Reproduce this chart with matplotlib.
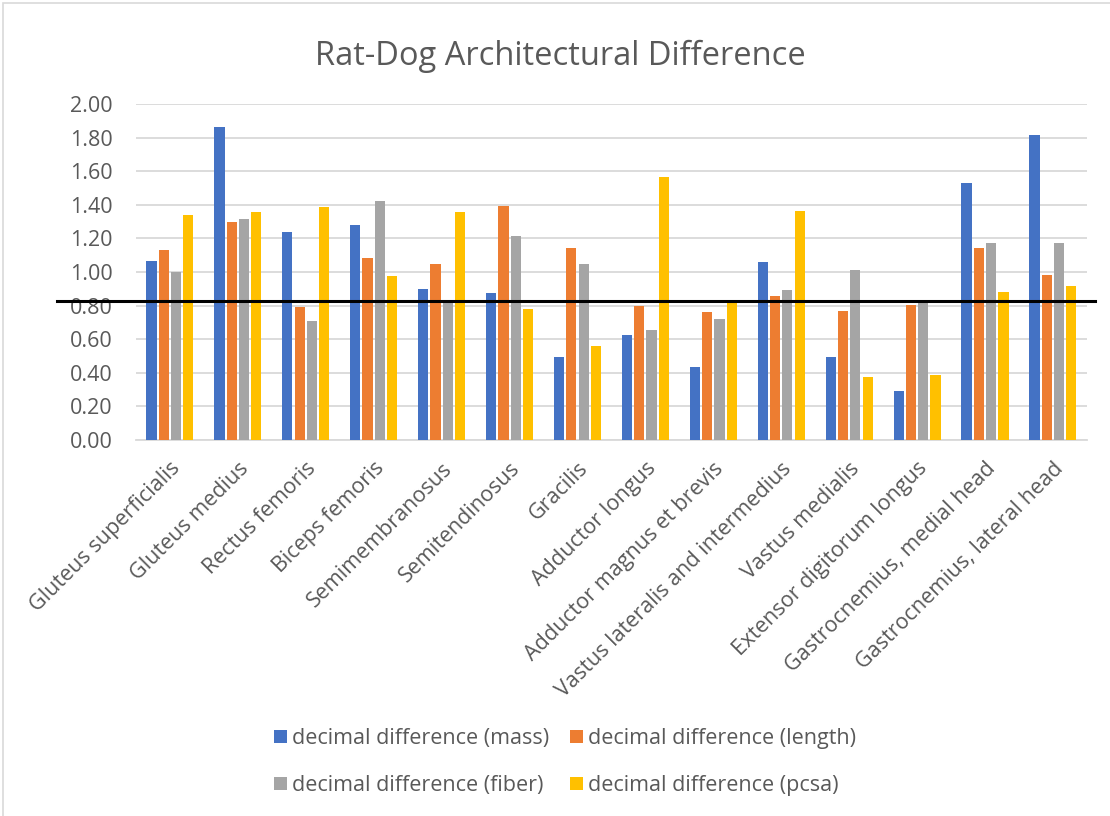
import numpy as np
import matplotlib.pyplot as plt
from matplotlib.patches import Rectangle

plt.rcParams['font.family'] = ['Open Sans', 'DejaVu Sans']

muscles = ['Gluteus superficialis', 'Gluteus medius', 'Rectus femoris',
           'Biceps femoris', 'Semimembranosus', 'Semitendinosus', 'Gracilis',
           'Adductor longus', 'Adductor magnus et brevis',
           'Vastus lateralis and intermedius', 'Vastus medialis',
           'Extensor digitorum longus', 'Gastrocnemius, medial head',
           'Gastrocnemius, lateral head']

mass = [1.063, 1.865, 1.236, 1.280, 0.899, 0.877, 0.492, 0.623, 0.433,
        1.062, 0.496, 0.290, 1.528, 1.815]
length = [1.129, 1.296, 0.790, 1.085, 1.048, 1.393, 1.145, 0.796, 0.762,
          0.857, 0.768, 0.806, 1.145, 0.982]
fiber = [1.002, 1.315, 0.708, 1.425, 0.819, 1.216, 1.048, 0.655, 0.720,
         0.893, 1.012, 0.827, 1.171, 1.173]
pcsa = [1.341, 1.355, 1.385, 0.978, 1.359, 0.780, 0.560, 1.563, 0.819,
        1.365, 0.375, 0.389, 0.879, 0.917]
ref_line = 0.825

series = [('decimal difference (mass)', mass, '#4472C4'),
          ('decimal difference (length)', length, '#ED7D31'),
          ('decimal difference (fiber)', fiber, '#A5A5A5'),
          ('decimal difference (pcsa)', pcsa, '#FFC000')]

txt = '#595959'
fig = plt.figure(figsize=(11.1, 8.16), dpi=100)
ax = fig.add_axes([0.1225, 0.4608, 0.8567, 0.4117])

x = np.arange(len(muscles))
slot = 0.181
handles = []
for i, (name, vals, col) in enumerate(series):
    b = ax.bar(x + (i - 1.5) * slot, vals, width=0.15, color=col, label=name, zorder=3)
    handles.append(b)

ax.set_xlim(-0.5, len(muscles) - 0.5)
ax.set_ylim(0, 2.0)
ax.set_yticks(np.arange(0, 2.01, 0.2))
ax.set_yticklabels(['%.2f' % v for v in np.arange(0, 2.01, 0.2)])
ax.yaxis.grid(True, color='#D9D9D9', linewidth=1.3, zorder=0)
ax.set_axisbelow(True)
for s in ['top', 'right', 'left']:
    ax.spines[s].set_visible(False)
ax.spines['bottom'].set_color('#D9D9D9')
ax.spines['bottom'].set_linewidth(1.3)
ax.tick_params(axis='both', length=0, labelsize=15.5, colors=txt)
ax.tick_params(axis='y', pad=17)
ax.set_xticks(x)
ax.set_xticklabels(muscles, rotation=45, ha='right', rotation_mode='anchor')
ax.tick_params(axis='x', pad=13)

# horizontal reference line drawn across the chart
ax.axhline(ref_line, xmin=-0.083, xmax=1.009, color='black', linewidth=2.2,
           clip_on=False, zorder=5)

fig.suptitle('Rat-Dog Architectural Difference', x=0.505, y=0.951,
             fontsize=23.5, color=txt)

order = [0, 2, 1, 3]
leg = fig.legend([handles[k] for k in order], [series[k][0] for k in order],
                 ncol=2, loc='center', frameon=False, fontsize=15.5,
                 labelcolor=txt, handlelength=0.6, handleheight=0.6,
                 handletextpad=0.2, columnspacing=1.0, labelspacing=1.2)
leg.set_bbox_to_anchor((0.509, 0.066), transform=fig.transFigure)

fig.patches.append(Rectangle((3 / 1110, -0.1), 1.2, 0.1 + 813 / 816,
                             transform=fig.transFigure, fill=False,
                             edgecolor='#D9D9D9', linewidth=1.2))

fig.savefig('out.png', dpi=100)
